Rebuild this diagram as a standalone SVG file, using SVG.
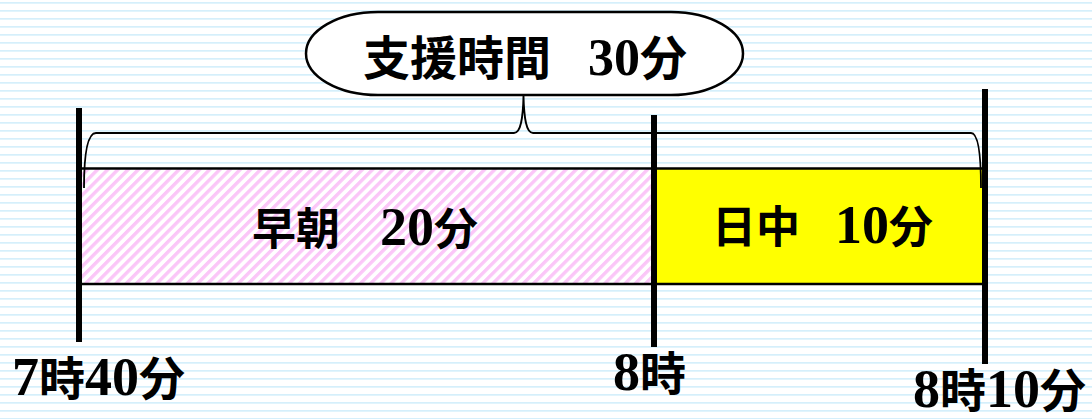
<svg xmlns="http://www.w3.org/2000/svg" width="1092" height="419" viewBox="0 0 1092 419">
<defs>
<pattern id="bg" patternUnits="userSpaceOnUse" width="8" height="8"><rect x="0" y="2" width="8" height="1.7" fill="#d5effb"/></pattern>
<pattern id="hatch" patternUnits="userSpaceOnUse" width="7.2" height="7.2" patternTransform="rotate(45)"><rect width="7.2" height="7.2" fill="#ffffff"/><rect x="0" y="0" width="3.4" height="7.2" fill="#fbc6f8"/></pattern>
<style>
.t{font-family:"Liberation Serif","Noto Sans CJK JP",serif;font-weight:bold;fill:#000}
.d{font-family:"Liberation Serif",serif}
.v{stroke:#000;stroke-width:6;fill:none}
.b{stroke:#000;stroke-width:2.5}
</style>
</defs>
<rect width="1092" height="419" fill="#ffffff"/>
<rect width="1092" height="419" fill="url(#bg)"/>
<g id="bar-early">
<rect class="b" x="79" y="168.5" width="575" height="115.5" fill="url(#hatch)"/>
<text class="t" x="252" y="245" font-size="44">早朝<tspan font-size="40">　</tspan><tspan class="d" font-size="54">20</tspan>分</text>
</g>
<g id="bar-day">
<rect class="b" x="654" y="168.5" width="331" height="115.5" fill="#ffff00"/>
<text class="t" x="712" y="243" font-size="44">日中<tspan font-size="35">　</tspan><tspan class="d" font-size="54">10</tspan>分</text>
</g>
<g id="connectors">
<line class="v" x1="79" y1="108" x2="79" y2="342"/>
<line class="v" x1="654" y1="115" x2="654" y2="347"/>
<line class="v" x1="985" y1="89" x2="985" y2="364"/>
<path d="M84,188 C84,160 86,133 96,133 L514,133 C521,133 523,118 523.5,95 C524,118 526,133 533,133 L971,133 C979,133 981,160 981,188" fill="none" stroke="#000" stroke-width="1.8"/>
</g>
<g id="title">
<rect x="306" y="12" width="437" height="83" rx="72" ry="41.5" fill="#ffffff" stroke="#000" stroke-width="2.5"/>
<text class="t" x="363" y="75" font-size="47">支援時間<tspan font-size="37">　</tspan><tspan class="d" font-size="52">30</tspan>分</text>
</g>
<g id="label-start"><text class="t" x="12" y="395" font-size="46"><tspan class="d" font-size="54">7</tspan>時<tspan class="d" font-size="54">40</tspan>分</text></g>
<g id="label-8"><text class="t" x="613" y="390" font-size="46"><tspan class="d" font-size="54">8</tspan>時</text></g>
<g id="label-end"><text class="t" x="913" y="407" font-size="46"><tspan class="d" font-size="54">8</tspan>時<tspan class="d" font-size="54">10</tspan>分</text></g>
</svg>
